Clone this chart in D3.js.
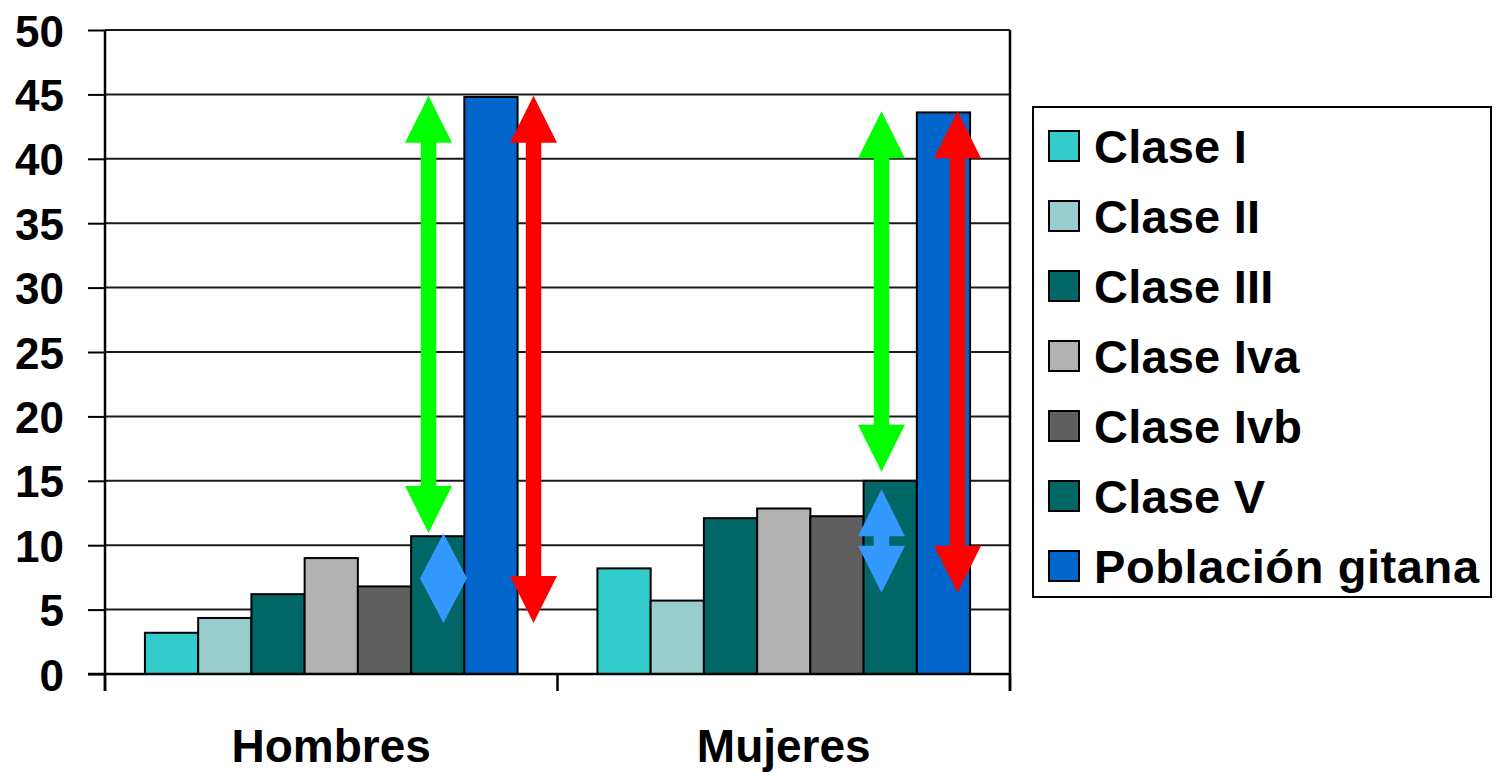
<!DOCTYPE html>
<html>
<head>
<meta charset="utf-8">
<script src="https://cdn.jsdelivr.net/npm/d3@7"></script>
<style>
  html, body { margin: 0; padding: 0; background: #fff; }
  svg { display: block; }
  text { font-family: "Liberation Sans", Arial, sans-serif; font-weight: bold; fill: #000; }
</style>
</head>
<body>
<svg id="chart" width="1497" height="772"></svg>
<script>
// ---- Data ----
const groups = ["Hombres", "Mujeres"];
const series = ["Clase I", "Clase II", "Clase III", "Clase Iva", "Clase Ivb", "Clase V", "Población gitana"];
const colors = ["#33CCCC", "#99CCCC", "#006666", "#B2B2B2", "#5F5F5F", "#006666", "#0066CC"];
const hombres = [3.2, 4.35, 6.2, 9.0, 6.8, 10.7, 44.8];
const mujeres = [8.2, 5.7, 12.1, 12.85, 12.25, 15.0, 43.6];
const yTicks = [0, 5, 10, 15, 20, 25, 30, 35, 40, 45, 50];

// Annotation arrows: group, position across the group band (0..1), value range, colour
const arrows = [
  { group: "Hombres", pos: 0.715, from: 44.9, to: 10.95, color: "#00FF00" },
  { group: "Hombres", pos: 0.947, from: 44.9, to: 3.95, color: "#FF0000" },
  { group: "Hombres", pos: 0.748, from: 10.9, to: 3.95, color: "#3399FF" },
  { group: "Mujeres", pos: 0.716, from: 43.7, to: 15.7, color: "#00FF00" },
  { group: "Mujeres", pos: 0.884, from: 43.7, to: 6.3, color: "#FF0000" },
  { group: "Mujeres", pos: 0.716, from: 14.35, to: 6.3, color: "#3399FF" }
];

const values = { Hombres: hombres, Mujeres: mujeres };

// ---- Layout ----
const svg = d3.select("#chart");
const mLeft = 105, mRight = 1010, mTop = 30, mBottom = 674;

const x0 = d3.scaleBand().domain(groups).range([mLeft, mRight]).paddingInner(0).paddingOuter(0);
const x1 = d3.scaleBand().domain(series).range([0, x0.bandwidth()]).paddingInner(0).paddingOuter(0.75);
const y = d3.scaleLinear().domain([0, 50]).range([mBottom, mTop]);

// gridlines
svg.append("g").selectAll("line").data(yTicks).join("line")
  .attr("x1", mLeft).attr("x2", mRight)
  .attr("y1", d => y(d)).attr("y2", d => y(d))
  .attr("stroke", "#1a1a1a").attr("stroke-width", 2);

// y axis
const yAxis = d3.axisLeft(y).tickValues(yTicks).tickSize(17).tickPadding(24);
const gy = svg.append("g").attr("transform", `translate(${mLeft},0)`).call(yAxis);
gy.select(".domain").remove();
gy.selectAll(".tick line").attr("stroke", "#000").attr("stroke-width", 2);
gy.selectAll(".tick text")
  .attr("font-size", 44).attr("dy", null)
  .attr("y", 16)
  .style("font-family", '"Liberation Sans", Arial, sans-serif').style("font-weight", "bold");

// bars
groups.forEach(g => {
  svg.append("g").selectAll("rect").data(values[g]).join("rect")
    .attr("x", (d, i) => x0(g) + x1(series[i]))
    .attr("width", x1.bandwidth())
    .attr("y", d => y(d))
    .attr("height", d => y(0) - y(d))
    .attr("fill", (d, i) => colors[i])
    .attr("stroke", "#000").attr("stroke-width", 2);
});

// axes lines
svg.append("line").attr("x1", mLeft).attr("x2", mLeft).attr("y1", mTop).attr("y2", 691)
  .attr("stroke", "#000").attr("stroke-width", 2.5);
svg.append("line").attr("x1", mRight).attr("x2", mRight).attr("y1", mTop).attr("y2", 691)
  .attr("stroke", "#000").attr("stroke-width", 2.5);
svg.append("line").attr("x1", mLeft - 17).attr("x2", mRight).attr("y1", y(0)).attr("y2", y(0))
  .attr("stroke", "#000").attr("stroke-width", 2.5);
// category tick marks
const catTicks = groups.map(g => x0(g)).concat([mRight]);
svg.append("g").selectAll("line").data(catTicks).join("line")
  .attr("x1", d => d).attr("x2", d => d).attr("y1", y(0)).attr("y2", 691)
  .attr("stroke", "#000").attr("stroke-width", 2.5);

// category labels
svg.append("g").selectAll("text").data(groups).join("text")
  .attr("x", d => x0(d) + x0.bandwidth() / 2)
  .attr("y", 762)
  .attr("text-anchor", "middle")
  .attr("font-size", 46)
  .text(d => d);

// arrows
function arrowPath(cx, yTop, yBot, headW, headH, shaftW) {
  const len = yBot - yTop;
  const hh = Math.min(headH, len / 2);
  const p = d3.path();
  p.moveTo(cx, yTop);
  p.lineTo(cx + headW / 2, yTop + hh);
  p.lineTo(cx + shaftW / 2, yTop + hh);
  p.lineTo(cx + shaftW / 2, yBot - hh);
  p.lineTo(cx + headW / 2, yBot - hh);
  p.lineTo(cx, yBot);
  p.lineTo(cx - headW / 2, yBot - hh);
  p.lineTo(cx - shaftW / 2, yBot - hh);
  p.lineTo(cx - shaftW / 2, yTop + hh);
  p.lineTo(cx - headW / 2, yTop + hh);
  p.closePath();
  return p.toString();
}
svg.append("g").selectAll("path").data(arrows).join("path")
  .attr("d", a => arrowPath(x0(a.group) + a.pos * x0.bandwidth(), y(a.from), y(a.to), 47, 47, 15.5))
  .attr("fill", a => a.color);

// legend
const lg = svg.append("g");
lg.append("rect").attr("x", 1033).attr("y", 107).attr("width", 458).attr("height", 490)
  .attr("fill", "#fff").attr("stroke", "#000").attr("stroke-width", 2);
const items = lg.selectAll("g.item").data(series).join("g").attr("class", "item")
  .attr("transform", (d, i) => `translate(0,${146 + i * 70})`);
items.append("rect").attr("x", 1049).attr("y", -15).attr("width", 30).attr("height", 30)
  .attr("fill", (d, i) => colors[i]).attr("stroke", "#000").attr("stroke-width", 2);
items.append("text").attr("x", 1094).attr("y", 17).attr("font-size", 47)
  .attr("letter-spacing", d => d === "Población gitana" ? 0.6 : 0.2)
  .text(d => d);
</script>
</body>
</html>
